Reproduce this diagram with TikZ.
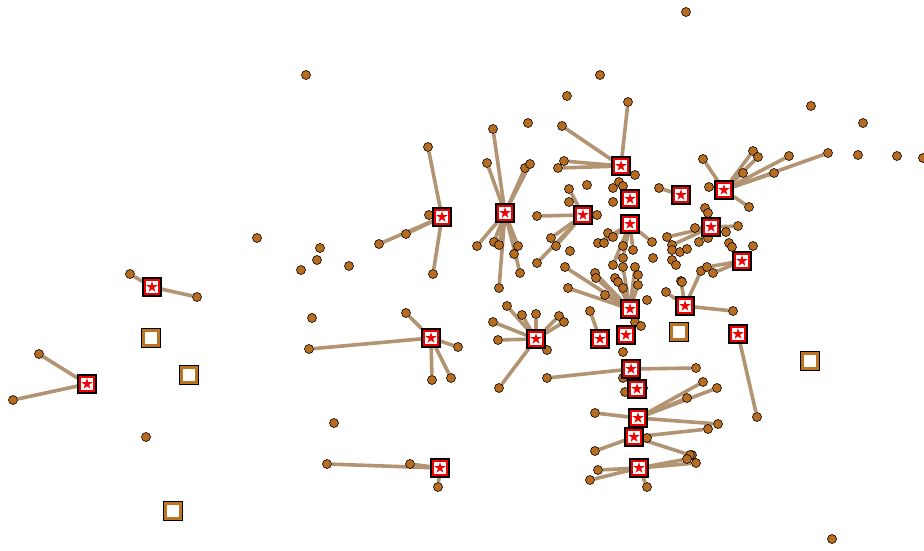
\documentclass[tikz,border=0pt]{standalone}
\usetikzlibrary{backgrounds}
\definecolor{dotbrown}{RGB}{184,108,32}
\definecolor{edgetan}{RGB}{178,148,114}
\definecolor{hollowbrown}{RGB}{186,116,36}
\definecolor{mkred}{RGB}{240,0,0}
\tikzset{
  dot/.style={circle, fill=dotbrown, draw=black, line width=0.6pt, minimum size=9pt, inner sep=0pt},
  edge/.style={draw=edgetan, line width=3.6pt},
  hollowmk/.style={rectangle, draw=black, double=hollowbrown, double distance=3pt, line width=0.7pt, fill=white, minimum size=15.5pt, inner sep=0pt},
  starmk/.style={rectangle, draw=black, line width=1.3pt, fill=mkred, minimum size=18pt, inner sep=0pt,
    path picture={
      \begin{scope}[shift={(path picture bounding box.center)}]
        \fill[white] (-5.8pt,-5.8pt) rectangle (5.8pt,5.8pt);
        \fill[mkred] (90:5.8pt) -- (126:2.2pt) -- (162:5.8pt) -- (198:2.2pt) -- (234:5.8pt) -- (270:2.2pt) -- (306:5.8pt) -- (342:2.2pt) -- (18:5.8pt) -- (54:2.2pt) -- cycle;
      \end{scope}}}
}
\begin{document}
\begin{tikzpicture}[x=1pt,y=-1pt]
\useasboundingbox (0,0) rectangle (924,550);
% dots
\foreach \x/\y in {130/274,197/297,39/354,13/400,146/437,257/238,306/75,
  428/147,429/215,406/234,379/244,433/274,320/248,317/260,301/270,349/266,
  406/313,458/347,432/380,451/378,309/349,312/318,334/423,327/464,410/464,438/487,
  493/129,528/123,487/163,525/168,530/164,562/126,564/161,558/168,537/216,
  477/246,494/242,499/245,518/246,551/238,556/246,569/189,569/202,
  514/254,520/273,499/288,537/263,570/251,565/267,568/288,
  507/306,522/315,536/314,493/322,498/340,559/316,564/322,547/350,499/388,547/378,
  686/12,600/75,567/96,628/102,
  635/175,587/185,613/188,619/182,623/186,613/202,659/188,597/215,
  598/243,604/243,608/233,613/237,623/246,652/242,667/237,672/245,695/228,
  811/106,863/123,828/153,858/155,897/156,923/158,703/159,753/151,758/157,789/156,
  743/173,774/173,709/187,749/207,705/208,708/213,738/226,726/232,699/242,708/238,
  729/243,732/247,753/246,
  701/271,707/267,713/273,733/311,757/417,696/368,703/382,717/388,718/424,708/429,
  696/463,692/455,832/539,
  590/311,647/300,666/292,681/281,635/322,641/326,623/352,623/378,
  687/398,595/413,647/438,595/451,690/455,687/459,598/470,590/480,647/487,625/392,643/388,
  613/265,623/258,633/250,623/267,635/267,638/275,615/278,618/282,623/288,638/285,
  595/273,596/278,605/295,653/258,672/250,680/252,687/249,672/260,676/265,682/282}
  \node[dot] (p\x x\y) at (\x,\y) {};
% hollow squares
\node[hollowmk] (h1) at (151,338) {};
\node[hollowmk] (h2) at (189,375) {};
\node[hollowmk] (h3) at (173,511) {};
\node[hollowmk] (h4) at (679,332) {};
\node[hollowmk] (h5) at (810,361) {};
% star markers
\foreach \n/\x/\y in {1/152/287,2/87/384,3/442/217,4/431/338,5/440/468,6/505/213,7/536/339,
  8/583/215,9/621/166,10/630/199,11/630/224,12/681/195,13/724/190,14/711/227,15/742/261,
  16/685/306,17/630/309,18/600/339,19/626/335,20/738/334,21/631/369,22/637/389,23/638/418,
  24/634/437,25/639/468}
  \node[starmk] (s\n) at (\x,\y) {};
% edges
\begin{pgfonlayer}{background}
\foreach \a/\b in {s1/p130x274,s1/p197x297,s2/p39x354,s2/p13x400,
  s3/p428x147,s3/p429x215,s3/p406x234,s3/p379x244,s3/p433x274,
  s4/p406x313,s4/p458x347,s4/p432x380,s4/p451x378,s4/p309x349,
  s5/p327x464,s5/p410x464,s5/p438x487,
  s6/p493x129,s6/p487x163,s6/p525x168,s6/p530x164,s6/p477x246,s6/p494x242,s6/p499x245,s6/p518x246,s6/p499x288,s6/p520x273,
  s7/p507x306,s7/p522x315,s7/p536x314,s7/p493x322,s7/p498x340,s7/p559x316,s7/p564x322,s7/p547x350,s7/p499x388,
  s8/p537x216,s8/p569x189,s8/p551x238,s8/p556x246,s8/p537x263,
  s9/p628x102,s9/p562x126,s9/p564x161,s9/p558x168,s9/p635x175,
  s11/p623x246,s11/p633x250,s11/p623x258,s11/p613x265,s11/p598x243,s11/p604x243,s11/p652x242,
  s12/p659x188,
  s13/p703x159,s13/p753x151,s13/p758x157,s13/p789x156,s13/p743x173,s13/p774x173,s13/p828x153,s13/p749x207,s13/p709x187,
  s14/p695x228,s14/p667x237,s14/p672x245,s14/p705x208,s14/p738x226,s14/p699x242,s14/p708x238,
  s15/p713x273,s15/p707x267,
  s16/p701x271,s16/p733x311,s16/p666x292,s16/p681x281,
  s17/p565x267,s17/p568x288,s17/p596x278,s17/p605x295,s17/p623x288,s17/p618x282,
  s17/p623x267,s17/p635x267,s17/p638x285,s17/p595x273,
  s18/p590x311,s20/p757x417,s21/p547x378,s21/p696x368,
  s23/p595x413,s23/p703x382,s23/p717x388,s23/p718x424,s23/p687x398,
  s24/p595x451,s24/p708x429,s24/p690x455,
  s25/p598x470,s25/p590x480,s25/p687x459,s25/p696x463,s25/p647x487}
  \draw[edge] (\a) -- (\b);
\end{pgfonlayer}
\end{tikzpicture}
\end{document}
